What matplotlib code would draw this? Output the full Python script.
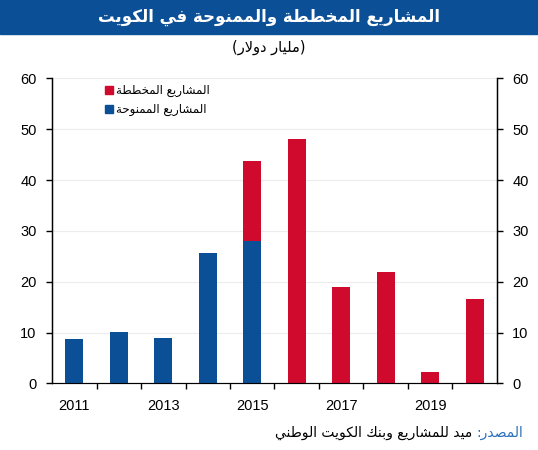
import matplotlib
matplotlib.use("Agg")
import matplotlib.pyplot as plt
from matplotlib.patches import Rectangle

years = [2011, 2012, 2013, 2014, 2015, 2016, 2017, 2018, 2019, 2020]
awarded = [8.8, 10.2, 9.0, 25.7, 28.1, 0, 0, 0, 0, 0]
planned = [0, 0, 0, 0, 15.6, 48.0, 19.0, 21.9, 2.3, 16.5]
year_labels = ['2011', '', '2013', '', '2015', '', '2017', '', '2019', '']
y_ticks = [0, 10, 20, 30, 40, 50, 60]

title = "المشاريع المخططة والممنوحة في الكويت"
subtitle = "(مليار دولار)"
label_planned = "المشاريع المخططة"
label_awarded = "المشاريع الممنوحة"
source_head = "المصدر:"
source_body = "ميد للمشاريع وبنك الكويت الوطني"

BLUE = '#0b4f96'
RED = '#cf0a2c'

# بسيط: تشكيل الحروف العربية لأن matplotlib لا يربطها
FOUR = {'ب': 0xFE8F, 'ت': 0xFE95, 'ح': 0xFEA1, 'خ': 0xFEA5, 'ش': 0xFEB5,
        'ص': 0xFEB9, 'ط': 0xFEC1, 'ع': 0xFEC9, 'ف': 0xFED1, 'ك': 0xFED9,
        'ل': 0xFEDD, 'م': 0xFEE1, 'ن': 0xFEE5, 'ي': 0xFEF1}
TWO = {'ا': 0xFE8D, 'ة': 0xFE93, 'د': 0xFEA9, 'ر': 0xFEAD, 'و': 0xFEED}


def is_ar(c):
    return c in FOUR or c in TWO


def shape(s):
    out = []
    i = 0
    n = len(s)
    while i < n:
        c = s[i]
        prev_joins = i > 0 and s[i - 1] in FOUR and not (out and out[-1] in ('\uFEFB', '\uFEFC'))
        if c == 'ل' and i + 1 < n and s[i + 1] == 'ا':
            out.append('\uFEFC' if prev_joins else '\uFEFB')
            i += 2
            continue
        if c in FOUR:
            nxt = i + 1 < n and is_ar(s[i + 1])
            form = (3 if nxt else 1) if prev_joins else (2 if nxt else 0)
            out.append(chr(FOUR[c] + form))
        elif c in TWO:
            out.append(chr(TWO[c] + (1 if prev_joins else 0)))
        else:
            out.append(c)
        i += 1
    vis = ''.join(reversed(out))
    return vis.translate(str.maketrans('()', ')('))


plt.rcParams['font.family'] = ['Liberation Sans', 'DejaVu Sans']
AR = ['DejaVu Sans']

fig = plt.figure(figsize=(5.38, 4.5), dpi=100)
ax = fig.add_axes([0.0967, 0.148, 0.827, 0.678])

x = list(range(len(years)))
ax.bar(x, awarded, width=0.4, color=BLUE, zorder=3)
ax.bar(x, planned, width=0.4, bottom=awarded, color=RED, zorder=3)

ax.set_xlim(-0.5, 9.5)
ax.set_ylim(0, 60)
ax.set_yticks(y_ticks)
ax.tick_params(axis='y', direction='out', length=4, width=1, labelsize=10.5, pad=7)
ax.set_xticks([i + 0.5 for i in range(9)])
ax.set_xticklabels([])
ax.tick_params(axis='x', which='major', direction='out', length=4, width=1)
ax.set_xticks(x, minor=True)
ax.set_xticklabels(year_labels, minor=True)
ax.tick_params(axis='x', which='minor', length=0, labelsize=10.5, pad=11)
ax.grid(axis='y', color='#ececec', linewidth=0.8, zorder=0)
ax.spines['top'].set_visible(False)
ax.spines['left'].set_linewidth(1)
ax.spines['right'].set_linewidth(1)
ax.spines['bottom'].set_color('#555555')

ax2 = ax.twinx()
ax2.set_ylim(0, 60)
ax2.set_yticks(y_ticks)
ax2.tick_params(axis='y', direction='out', length=4, width=1, labelsize=10.5, pad=7)
ax2.spines['top'].set_visible(False)

# legend
h1 = Rectangle((0, 0), 1, 1, color=RED)
h2 = Rectangle((0, 0), 1, 1, color=BLUE)
leg = ax.legend([h1, h2], [shape(label_planned), shape(label_awarded)],
                loc='upper left', bbox_to_anchor=(0.095, 1.015), frameon=False,
                handlelength=0.65, handleheight=0.65, handletextpad=0.3,
                labelspacing=0.5, prop={'family': AR, 'size': 8.5})

# title band
fig.patches.append(Rectangle((0, 1 - 34 / 450), 1, 34 / 450, transform=fig.transFigure,
                             color=BLUE, zorder=0))
fig.text(0.5, 1 - 17 / 450, shape(title), color='white', fontsize=12, fontweight='bold',
         family=AR, ha='center', va='center')
fig.text(0.5, 1 - 47 / 450, shape(subtitle), color='black', fontsize=10.5,
         family=AR, ha='center', va='center')

# source
src = fig.text(523 / 538, 1 - 433 / 450, shape(source_head), color='#2a6fba', fontsize=10,
               family=AR, ha='right', va='center')
ax.annotate(shape(source_body) + ' ', xy=(0, 0.5), xycoords=src, ha='right', va='center',
            fontsize=10, family=AR, color='black', annotation_clip=False)

fig.savefig('out.png', dpi=100)
